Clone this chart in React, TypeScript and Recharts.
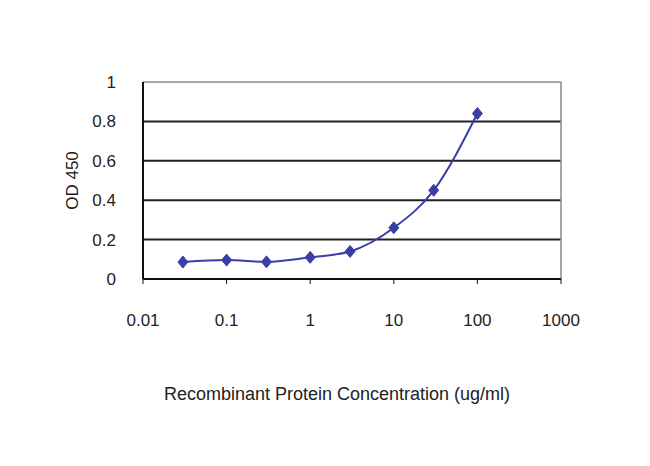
import React from "react";
import {
  LineChart,
  Line,
  XAxis,
  YAxis,
  CartesianGrid,
  ReferenceLine,
  Label,
} from "recharts";

const concentrations = [0.03, 0.1, 0.3, 1, 3, 10, 30, 100];
const odValues = [0.086, 0.096, 0.087, 0.11, 0.14, 0.26, 0.45, 0.84];
const xTicks = [0.01, 0.1, 1, 10, 100, 1000];
const yTicks = [0, 0.2, 0.4, 0.6, 0.8, 1];

const data = concentrations.map((c, i) => ({ conc: c, od: odValues[i] }));

const lineColor = "#3a3fa8";
const textColor = "#222";

const Diamond = (props: any) => {
  const { cx, cy } = props;
  if (cx == null || cy == null) return null;
  const rx = 5;
  const ry = 6;
  return (
    <path
      d={`M${cx},${cy - ry}L${cx + rx},${cy}L${cx},${cy + ry}L${cx - rx},${cy}Z`}
      fill={lineColor}
      stroke={lineColor}
    />
  );
};

const App = () => {
  return (
    <div style={{ position: "absolute", left: 0, top: 0, background: "#fff" }}>
      <LineChart
        width={650}
        height={466}
        data={data}
        margin={{ top: 82, right: 89, left: 83, bottom: 157 }}
      >
        <CartesianGrid
          horizontal={true}
          vertical={false}
          stroke="#222"
          strokeWidth={2}
          horizontalValues={[0.2, 0.4, 0.6, 0.8]}
        />
        <XAxis
          dataKey="conc"
          type="number"
          scale="log"
          domain={[0.01, 1000]}
          ticks={xTicks}
          tickFormatter={(v: number) => String(v)}
          allowDataOverflow
          height={30}
          axisLine={{ stroke: "#111", strokeWidth: 2 }}
          tickLine={{ stroke: "#111" }}
          tickSize={5}
          tickMargin={30}
          tick={{ fill: textColor, fontSize: 17, fontFamily: "Liberation Sans" }}
        >
          <Label
            value="Recombinant Protein Concentration (ug/ml)"
            position="insideBottom"
            offset={-91}
            dx={-15}
            fill={textColor}
            fontSize={18}
            fontFamily="Liberation Sans"
          />
        </XAxis>
        <YAxis
          type="number"
          domain={[0, 1]}
          ticks={yTicks}
          tickFormatter={(v: number) => String(v)}
          axisLine={{ stroke: "#111", strokeWidth: 2 }}
          tickLine={false}
          tickMargin={21}
          width={60}
          tick={{ fill: textColor, fontSize: 17, fontFamily: "Liberation Sans" }}
        >
          <Label
            value="OD 450"
            angle={-90}
            position="insideLeft"
            offset={-11}
            fill={textColor}
            fontSize={17}
            fontFamily="Liberation Sans"
            style={{ textAnchor: "middle" }}
          />
        </YAxis>
        <ReferenceLine y={1} stroke="#888" strokeWidth={1.5} />
        <ReferenceLine x={1000} stroke="#888" strokeWidth={1.5} />
        <Line
          type="monotone"
          dataKey="od"
          stroke={lineColor}
          strokeWidth={2}
          dot={<Diamond />}
          activeDot={false}
          isAnimationActive={false}
        />
      </LineChart>
    </div>
  );
};

export default App;
